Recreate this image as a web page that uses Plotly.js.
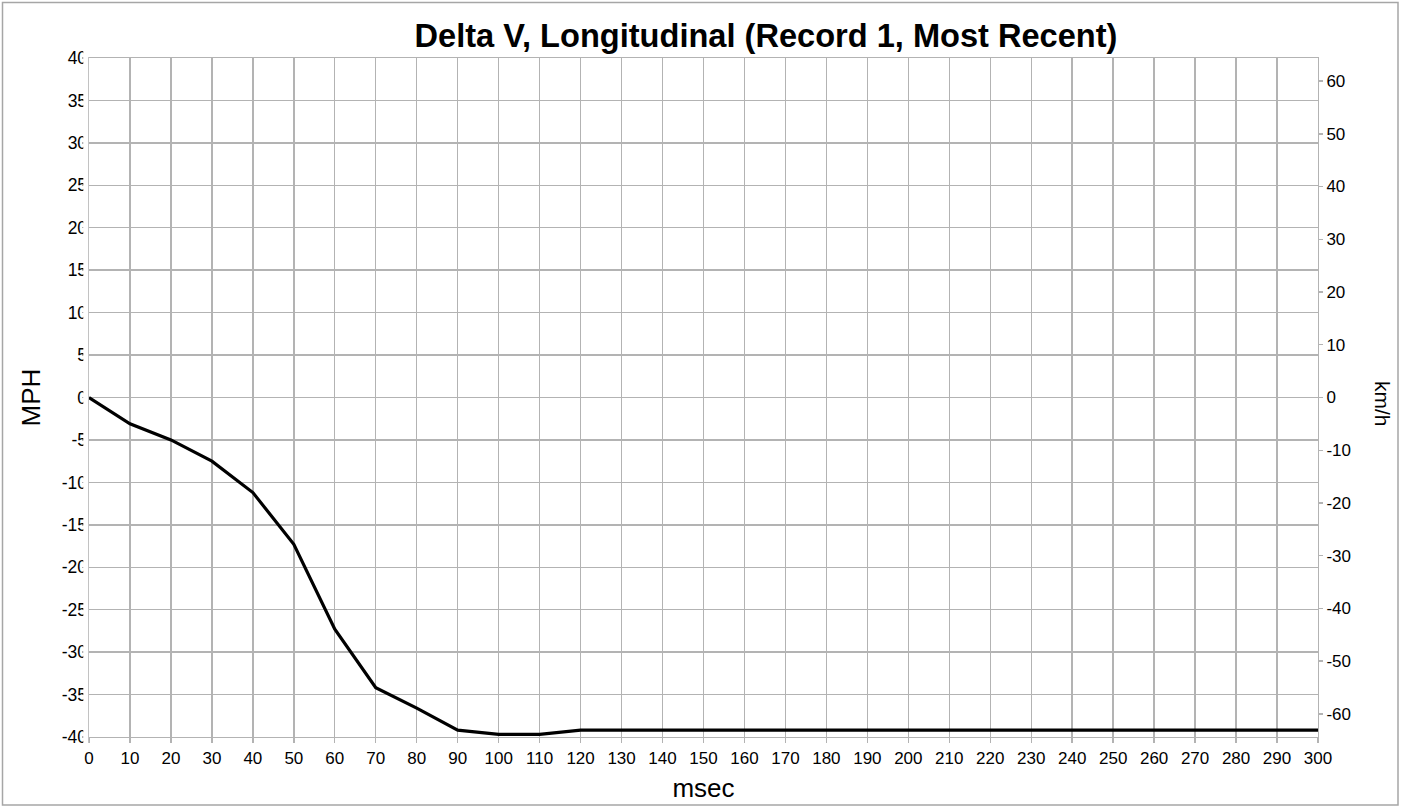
<!DOCTYPE html>
<html>
<head>
<meta charset="utf-8">
<script src="https://cdn.plot.ly/plotly-3.0.1.min.js"></script>
<style>html,body{margin:0;padding:0;background:#fff;}#chart{width:1403px;height:807px;}</style>
</head>
<body>
<div id="chart"></div>
<script>
// Data
var timeMs = [0, 10, 20, 30, 40, 50, 60, 70, 80, 90, 100, 110, 120, 130, 140, 150, 160, 170, 180, 190, 200, 210, 220, 230, 240, 250, 260, 270, 280, 290, 300];
var deltaVMph = [0, -3.1, -5.0, -7.5, -11.2, -17.3, -27.3, -34.2, -36.6, -39.2, -39.7, -39.7, -39.2, -39.2, -39.2, -39.2, -39.2, -39.2, -39.2, -39.2, -39.2, -39.2, -39.2, -39.2, -39.2, -39.2, -39.2, -39.2, -39.2, -39.2, -39.2];
var mphTicks = [-40, -35, -30, -25, -20, -15, -10, -5, 0, 5, 10, 15, 20, 25, 30, 35, 40];
var kmhTicks = [-60, -50, -40, -30, -20, -10, 0, 10, 20, 30, 40, 50, 60];
var MPH_TO_KMH = 1.609344;

var FONT = 'Liberation Sans, Arial, sans-serif';
var GRID = '#b3b3b3';

var trace = {
  x: timeMs,
  y: deltaVMph,
  type: 'scatter',
  mode: 'lines',
  line: {color: '#000000', width: 3.2},
  showlegend: false,
  hoverinfo: 'x+y'
};
// invisible trace to carry the km/h axis
var traceKmh = {
  x: [timeMs[0]],
  y: [0],
  yaxis: 'y2',
  type: 'scatter',
  mode: 'markers',
  marker: {opacity: 0},
  showlegend: false,
  hoverinfo: 'skip'
};

var L = 89, R = 1318, T = 58, B = 737, W = 1403, H = 807;
function px(x) { return (x - L) / (R - L); }
function py(y) { return (B - y) / (B - T); }

var layout = {
  width: W, height: H,
  margin: {l: L, r: W - R, t: T, b: H - B, pad: 0},
  paper_bgcolor: '#ffffff',
  plot_bgcolor: '#ffffff',
  font: {family: FONT, color: '#000000', size: 17},
  title: {
    text: '<b>Delta V, Longitudinal (Record 1, Most Recent)</b>',
    font: {family: FONT, size: 32.6, color: '#000000'},
    x: px(766), xref: 'paper', xanchor: 'center',
    y: 1 - 36 / H, yanchor: 'middle'
  },
  xaxis: {
    range: [0, 300],
    tickmode: 'array',
    tickvals: timeMs,
    ticktext: timeMs.map(String),
    showgrid: true, gridcolor: GRID, gridwidth: 1.4,
    zeroline: false,
    showline: true, linecolor: GRID, linewidth: 1.4, mirror: true,
    ticks: 'outside', ticklen: 5, tickcolor: GRID, tickwidth: 1.4,
    tickfont: {family: FONT, size: 17, color: '#000'},
    title: {text: 'msec', font: {family: FONT, size: 26, color: '#000'}, standoff: 12},
    automargin: false
  },
  yaxis: {
    range: [-40, 40],
    tickmode: 'array',
    tickvals: mphTicks,
    ticktext: mphTicks.map(String),
    showgrid: true, gridcolor: GRID, gridwidth: 1.4,
    zeroline: false,
    showline: true, linecolor: GRID, linewidth: 1.4, mirror: true,
    ticks: 'outside', ticklen: 6, tickcolor: GRID, tickwidth: 1.4,
    ticklabelstandoff: -9,
    tickfont: {family: FONT, size: 17.5, color: '#000'},
    title: {text: 'MPH', font: {family: FONT, size: 26, color: '#000'}, standoff: 13},
    automargin: false
  },
  yaxis2: {
    overlaying: 'y', side: 'right',
    range: [-40 * MPH_TO_KMH, 40 * MPH_TO_KMH],
    tickmode: 'array',
    tickvals: kmhTicks,
    ticktext: kmhTicks.map(String),
    showgrid: false, zeroline: false,
    showline: false,
    ticks: 'outside', ticklen: 4, tickcolor: GRID, tickwidth: 1.4,
    tickfont: {family: FONT, size: 17, color: '#000'},
    automargin: false
  },
  shapes: [
    // clip strip that trims the left tick labels like the reference
    {type: 'rect', xref: 'paper', yref: 'paper', layer: 'above',
     x0: px(83.3), x1: px(88.2), y0: py(744), y1: py(40),
     fillcolor: '#ffffff', line: {width: 0}},
    // outer frame
    {type: 'rect', xref: 'paper', yref: 'paper', layer: 'above',
     x0: px(2.5), x1: px(1398), y0: py(805), y1: py(2.5),
     fillcolor: 'rgba(0,0,0,0)', line: {color: '#a6a6a6', width: 1.5}}
  ],
  annotations: [
    {text: 'km/h', xref: 'paper', yref: 'paper', x: px(1383), y: py(404),
     xanchor: 'center', yanchor: 'middle', showarrow: false, textangle: 90,
     font: {family: FONT, size: 21, color: '#000'}}
  ]
};

Plotly.newPlot('chart', [trace, traceKmh], layout, {displayModeBar: false, staticPlot: true});
</script>
</body>
</html>
